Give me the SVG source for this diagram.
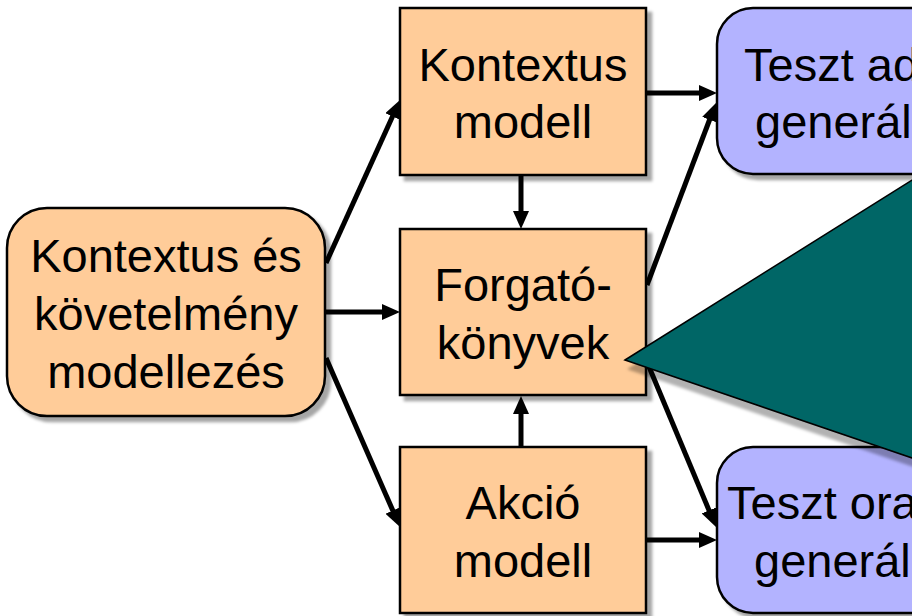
<svg xmlns="http://www.w3.org/2000/svg" width="912" height="616" viewBox="0 0 912 616">
  <style>
    .proc { fill: #FFCC99; stroke: #000; stroke-width: 2.5; filter: url(#shadow); }
    .gen { fill: #B3B3FF; stroke: #000; stroke-width: 2.5; filter: url(#shadow); }
    .lbl { font-family: "Liberation Sans", Arial, sans-serif; font-size: 47px; fill: #000; }
    .mid { text-anchor: middle; }
    .conn { stroke: #000; stroke-width: 5; fill: none; marker-end: url(#head); }
  </style>
  <defs>
    <filter id="shadow" x="-10%" y="-10%" width="130%" height="130%">
      <feDropShadow dx="5" dy="5" stdDeviation="1.5" flood-color="#000" flood-opacity="0.35"/>
    </filter>
    <filter id="shadowTri" x="-10%" y="-10%" width="130%" height="130%">
      <feDropShadow dx="4" dy="9" stdDeviation="1.5" flood-color="#000" flood-opacity="0.3"/>
    </filter>
    <marker id="head" markerUnits="userSpaceOnUse" markerWidth="18" markerHeight="16" refX="4" refY="8" orient="auto">
      <path d="M0,0 L18,8 L0,16 z" fill="#000"/>
    </marker>
  </defs>

  <!-- connectors -->
  <g id="connectors">
    <line class="conn" x1="326" y1="263" x2="394.2" y2="112.8"/>
    <line class="conn" x1="326" y1="312" x2="386" y2="312"/>
    <line class="conn" x1="326" y1="358" x2="394.4" y2="514.2"/>
    <line class="conn" x1="521" y1="175" x2="521" y2="215"/>
    <line class="conn" x1="521" y1="447" x2="521" y2="410"/>
    <line class="conn" x1="646" y1="93" x2="703" y2="93"/>
    <line class="conn" x1="647" y1="285" x2="711" y2="116"/>
    <line class="conn" x1="647" y1="362" x2="710.6" y2="514.1"/>
    <line class="conn" x1="646" y1="540" x2="703" y2="540"/>
  </g>

  <g id="node-kontextus-kovetelmeny">
    <rect class="proc" x="7" y="208" width="318" height="208" rx="40" ry="40"/>
    <text class="lbl mid" x="166" y="272">Kontextus és</text>
    <text class="lbl mid" x="166" y="330">követelmény</text>
    <text class="lbl mid" x="166" y="388">modellezés</text>
  </g>

  <g id="node-kontextus-modell">
    <rect class="proc" x="400" y="8" width="246" height="167"/>
    <text class="lbl mid" x="523" y="81">Kontextus</text>
    <text class="lbl mid" x="523" y="138">modell</text>
  </g>

  <g id="node-forgatokonyvek">
    <rect class="proc" x="400" y="229" width="246" height="166"/>
    <text class="lbl mid" x="523" y="301">Forgató-</text>
    <text class="lbl mid" x="523" y="359">könyvek</text>
  </g>

  <g id="node-akcio-modell">
    <rect class="proc" x="400" y="447" width="246" height="166"/>
    <text class="lbl mid" x="523" y="519">Akció</text>
    <text class="lbl mid" x="523" y="577">modell</text>
  </g>

  <g id="node-teszt-adat">
    <rect class="gen" x="717" y="8" width="300" height="166" rx="36" ry="36"/>
    <text class="lbl" x="744" y="81">Teszt ad</text>
    <text class="lbl" x="755" y="138">generál</text>
  </g>

  <g id="node-teszt-oracle">
    <rect class="gen" x="717" y="447" width="300" height="166" rx="36" ry="36"/>
    <text class="lbl" x="727" y="519">Teszt ora</text>
    <text class="lbl" x="754" y="577">generál</text>
  </g>

  <g id="callout">
    <polygon points="625,360 1000,125 1000,488" fill="#006666" stroke="#000" stroke-width="1.5" filter="url(#shadowTri)"/>
  </g>
</svg>
